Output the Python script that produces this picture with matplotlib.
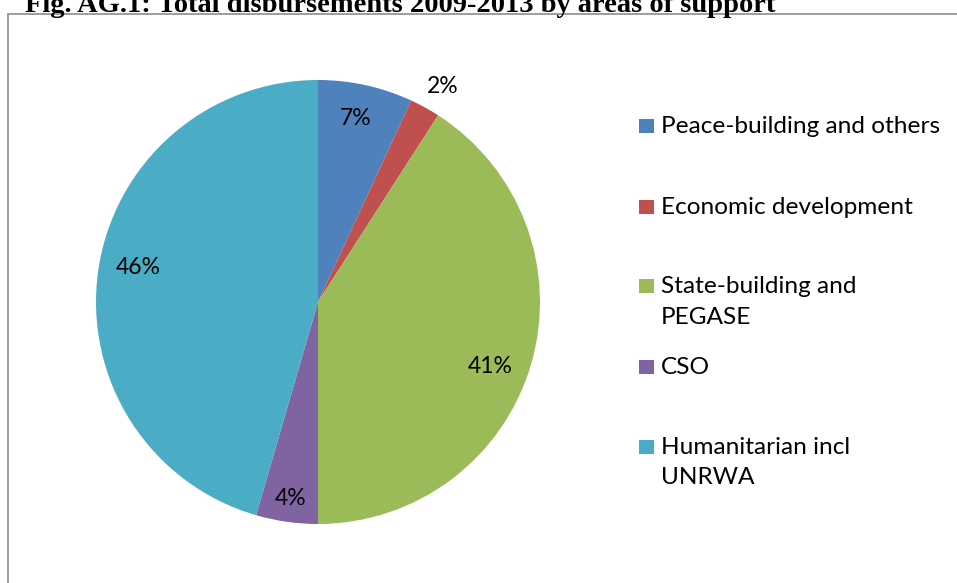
import matplotlib.pyplot as plt
import matplotlib.patches as mpatches
import numpy as np

# data (shares in %)
categories = ['Peace-building and others', 'Economic development',
              'State-building and\nPEGASE', 'CSO', 'Humanitarian incl\nUNRWA']
shares = [6.9, 2.2, 40.9, 4.5, 45.5]
share_labels = ['7%', '2%', '41%', '4%', '46%']
colors = ['#4F81BD', '#C0504D', '#9BBB59', '#8064A2', '#4BACC6']

# label placement: radial distance (fraction of radius) and angle nudge (deg)
label_dist = [0.85, 1.13, 0.825, 0.887, 0.827]
label_nudge = [0.8, -1.1, -3.7, 0.2, -3.2]

W, H = 957, 583
fig = plt.figure(figsize=(W / 100, H / 100), dpi=100)

# chart frame (grey border, cut at right/bottom)
frame = mpatches.Rectangle((8 / W, -0.1), 1.2, 1.1 - 14.5 / H, transform=fig.transFigure,
                           fill=False, edgecolor='#8c8c8c', lw=1.2)
fig.patches.append(frame)

# title, partially cut at top
fig.text(25 / W, 1 - 11.5 / H, 'Fig. AG.1: Total disbursements 2009-2013 by areas of support',
         family='Liberation Serif', weight='bold', fontsize=20.5, ha='left', va='baseline')

# pie axes: centre (318, 302), radius 222 px
cx, cy, r = 318, 302, 222
ax = fig.add_axes([(cx - r) / W, (H - cy - r) / H, 2 * r / W, 2 * r / H])
wedges, _ = ax.pie(shares, colors=colors, startangle=90, counterclock=False,
                   wedgeprops=dict(linewidth=0))
ax.set_xlim(-1, 1)
ax.set_ylim(-1, 1)
ax.set_aspect('equal')

cap = 8 / r  # half cap height in axis units, for baseline placement
for w, lab, d, nd in zip(wedges, share_labels, label_dist, label_nudge):
    ang = np.deg2rad((w.theta1 + w.theta2) / 2 + nd)
    ax.text(d * np.cos(ang), d * np.sin(ang) - cap, lab, ha='center', va='baseline',
            fontsize=16.5, family='Lato', color='#000000')

# legend drawn Excel style: fixed 80 px step between entries
for i, (cat, col) in enumerate(zip(categories, colors)):
    yc = 126.5 + 80 * i
    sq = mpatches.Rectangle((639 / W, 1 - (yc + 7) / H), 15 / W, 14 / H,
                            transform=fig.transFigure, facecolor=col, edgecolor='none')
    fig.patches.append(sq)
    for k, line in enumerate(cat.split('\n')):
        fig.text(661 / W, 1 - (yc + 7 + 31 * k) / H, line, ha='left', va='baseline',
                 fontsize=17.6, family='Lato', color='#000000')

fig.savefig('out.png', dpi=100)
